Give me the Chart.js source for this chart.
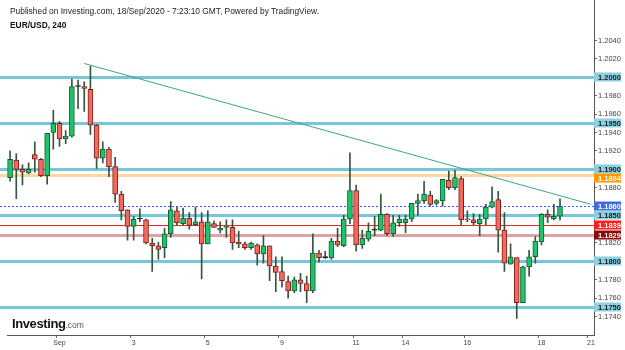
<!DOCTYPE html>
<html>
<head>
<meta charset="utf-8">
<script src="https://cdn.jsdelivr.net/npm/chart.js@4.4.0/dist/chart.umd.min.js"></script>
<style>
  html, body { margin: 0; padding: 0; background: #fff; }
  #wrap { position: relative; width: 625px; height: 350px; }
  #hdr { position: absolute; left: 10px; top: 4px; font-family: "Liberation Sans", Arial, sans-serif; font-size: 8.4px; color: #222; line-height: 14px; }
  #hdr b { color: #111; }
  #logo { position: absolute; left: 12px; top: 314px; font-family: "Liberation Sans", Arial, sans-serif; color: #111; }
  #logo b { font-size: 13px; letter-spacing: -0.4px; }
  #logo span { font-size: 8.5px; color: #555; }
</style>
</head>
<body>
<div id="wrap">
  <canvas id="myChart" width="625" height="350"></canvas>
  <div id="hdr">Published on Investing.com, 18/Sep/2020 - 7:23:10 GMT, Powered by TradingView.<br><b>EUR/USD, 240</b></div>
  <div id="logo"><b>Investing</b><span>.com</span></div>
</div>
<script>
const opens  = [1.1891,1.1910,1.1900,1.1896,1.1916,1.1911,1.1893,1.1940,1.1950,1.1933,
                1.1936,1.1990,1.1990,1.1987,1.1948,1.1912,1.1922,1.1903,1.1873,1.1856,
                1.1838,1.1846,1.1845,1.1820,1.1817,1.1815,1.1830,1.1855,1.1841,1.1847,
                1.1840,1.1843,1.1819,1.1841,1.1834,1.1837,1.1837,1.1821,1.1819,1.1815,
                1.1818,1.1808,1.1817,1.1795,1.1789,1.1778,1.1768,1.1780,1.1776,1.1768,
                1.1809,1.1804,1.1804,1.1822,1.1817,1.1846,1.1877,1.1818,1.1824,1.1834,
                1.1834,1.1851,1.1830,1.1842,1.1842,1.1846,1.1863,1.1866,1.1872,1.1863,
                1.1866,1.1888,1.1880,1.1890,1.1846,1.1845,1.1841,1.1846,1.1859,1.1867,
                1.1834,1.1797,1.1804,1.1755,1.1794,1.1805,1.1821,1.1851,1.1846,1.1849];
const highs  = [1.1920,1.1917,1.1905,1.1907,1.1930,1.1912,1.1939,1.1964,1.1952,1.1942,
                1.1998,1.1997,1.1995,1.2012,1.1949,1.1930,1.1924,1.1913,1.1876,1.1856,
                1.1849,1.1857,1.1846,1.1825,1.1821,1.1836,1.1865,1.1859,1.1858,1.1853,
                1.1859,1.1853,1.1855,1.1844,1.1843,1.1845,1.1845,1.1833,1.1821,1.1821,
                1.1819,1.1828,1.1817,1.1805,1.1805,1.1784,1.1783,1.1787,1.1784,1.1830,
                1.1812,1.1811,1.1825,1.1836,1.1850,1.1918,1.1883,1.1834,1.1842,1.1849,
                1.1873,1.1852,1.1850,1.1850,1.1850,1.1863,1.1873,1.1887,1.1876,1.1867,
                1.1889,1.1898,1.1899,1.1892,1.1855,1.1852,1.1851,1.1862,1.1881,1.1876,
                1.1853,1.1819,1.1804,1.1795,1.1812,1.1827,1.1852,1.1856,1.1862,1.1868];
const lows   = [1.1887,1.1868,1.1883,1.1895,1.1897,1.1892,1.1884,1.1922,1.1925,1.1928,
                1.1935,1.1966,1.1963,1.1938,1.1901,1.1907,1.1892,1.1864,1.1845,1.1823,
                1.1823,1.1843,1.1819,1.1789,1.1802,1.1804,1.1826,1.1839,1.1839,1.1835,
                1.1839,1.1781,1.1819,1.1837,1.1831,1.1826,1.1813,1.1815,1.1813,1.1813,
                1.1796,1.1798,1.1779,1.1767,1.1772,1.1760,1.1766,1.1767,1.1755,1.1766,
                1.1799,1.1803,1.1802,1.1816,1.1816,1.1841,1.1811,1.1814,1.1822,1.1828,
                1.1833,1.1828,1.1827,1.1838,1.1831,1.1843,1.1850,1.1863,1.1860,1.1861,
                1.1860,1.1878,1.1878,1.1840,1.1843,1.1840,1.1828,1.1840,1.1858,1.1810,
                1.1789,1.1797,1.1738,1.1755,1.1784,1.1798,1.1818,1.1842,1.1845,1.1845];
const closes = [1.1911,1.1900,1.1897,1.1900,1.1911,1.1893,1.1939,1.1950,1.1933,1.1936,
                1.1990,1.1990,1.1988,1.1948,1.1912,1.1922,1.1903,1.1873,1.1855,1.1838,
                1.1846,1.1846,1.1820,1.1817,1.1813,1.1830,1.1856,1.1842,1.1847,1.1839,
                1.1843,1.1819,1.1843,1.1837,1.1836,1.1838,1.1820,1.1819,1.1815,1.1820,
                1.1808,1.1817,1.1795,1.1788,1.1779,1.1768,1.1780,1.1776,1.1768,1.1809,
                1.1804,1.1804,1.1822,1.1818,1.1846,1.1877,1.1818,1.1825,1.1833,1.1834,
                1.1851,1.1830,1.1842,1.1846,1.1846,1.1863,1.1866,1.1873,1.1862,1.1866,
                1.1889,1.1880,1.1891,1.1845,1.1845,1.1842,1.1846,1.1859,1.1865,1.1834,
                1.1798,1.1805,1.1755,1.1794,1.1805,1.1822,1.1851,1.1848,1.1849,1.1860];

// x tick labels by bar slot (95 slots, last ones are empty future space)
const tickSlots = [8, 20, 32, 44, 56, 64, 74, 86, 94];
const tickNames = ["Sep", "3", "5", "9", "11", "14", "16", "18", "21"];

const supportLevels = [1.2000, 1.1950, 1.1900, 1.1850, 1.1800, 1.1750];
const orangeLevel = 1.1894;
const lastPrice = 1.1860;
const redLevel = 1.1839;
const darkRedLevel = 1.1829;

const trendX = [12, 94];
const trendY = [1.2015, 1.1862];

const yMin = 1.1720, yMax = 1.2078;

var labels = [];
var trend = [];
for (var i = 0; i < 95; i++) {
  var k = tickSlots.indexOf(i);
  labels.push(k >= 0 ? tickNames[k] : "");
  var t = trendX.indexOf(i);
  trend.push(t >= 0 ? trendY[t] : null);
}

var wicks = lows.map(function (l, i) { return [l, highs[i]]; });
var bodies = opens.map(function (o, i) { return [Math.min(o, closes[i]), Math.max(o, closes[i])]; });
var bodyFill = opens.map(function (o, i) {
  if (o === closes[i]) return "#222";
  return closes[i] > o ? "#1cc46a" : "#f5685a";
});
var bodyLine = opens.map(function (o, i) {
  if (o === closes[i]) return "#222";
  return closes[i] > o ? "#1d5a31" : "#7a1f1f";
});

function drawLevels(chart) {
  var ctx = chart.ctx, a = chart.chartArea, y = chart.scales.y;
  function hline(v, color, width, dash) {
    var py = Math.round(y.getPixelForValue(v)) + (width % 2 ? 0.5 : 0);
    ctx.save();
    ctx.strokeStyle = color;
    ctx.lineWidth = width;
    ctx.setLineDash(dash || []);
    ctx.beginPath();
    ctx.moveTo(a.left - 7, py);
    ctx.lineTo(a.right, py);
    ctx.stroke();
    ctx.restore();
  }
  supportLevels.forEach(function (v) { hline(v, "rgba(96,188,210,0.85)", 3); });
  hline(orangeLevel, "#ffd7a0", 3);
  hline(darkRedLevel, "#d9a4a4", 3);
  hline(redLevel, "#e02a2a", 1);
  hline(lastPrice, "#3a5cff", 1, [2, 2]);
}

function drawBadges(chart) {
  var ctx = chart.ctx, a = chart.chartArea, y = chart.scales.y;
  // axis line up to the very top like the original
  ctx.fillStyle = "#555";
  ctx.fillRect(a.right, 0, 1, a.top);

  var list = supportLevels.map(function (v) { return { v: v, bg: "#8dd0e0", fg: "#1a1a1a" }; });
  list.push({ v: orangeLevel, bg: "#ff9800", fg: "#fff" });
  list.push({ v: lastPrice, bg: "#4169e1", fg: "#fff" });
  list.push({ v: redLevel, bg: "#ff1f1f", fg: "#fff" });
  list.push({ v: darkRedLevel, bg: "#8b0a0a", fg: "#fff" });
  list.forEach(function (b) { b.py = Math.round(y.getPixelForValue(b.v)); });
  list.sort(function (p, q) { return p.py - q.py; });

  // push overlapping badges down a bit
  var h = 9, prevBottom = -100;
  list.forEach(function (b) {
    var top = b.py - 4.5;
    if (top < prevBottom) top = prevBottom;
    prevBottom = top + h;
    ctx.fillStyle = b.bg;
    ctx.fillRect(a.right, top, 27, h);
    ctx.fillStyle = b.fg;
    ctx.font = "bold 7.5px 'Liberation Sans', Arial, sans-serif";
    ctx.textAlign = "left";
    ctx.textBaseline = "middle";
    ctx.fillText(b.v.toFixed(4), a.right + 4, top + h / 2 + 0.5);
  });
}

new Chart("myChart", {
  type: "bar",
  data: {
    labels: labels,
    datasets: [{
      type: "line",
      data: trend,
      spanGaps: true,
      borderColor: "#3aa785",
      borderWidth: 1,
      pointRadius: 0,
      fill: false,
      order: 2
    }, {
      data: wicks,
      backgroundColor: "#34573c",
      barThickness: 1,
      grouped: false,
      order: 1
    }, {
      data: bodies,
      backgroundColor: bodyFill,
      borderColor: bodyLine,
      borderWidth: 1,
      borderSkipped: false,
      barThickness: 5,
      minBarLength: 1,
      grouped: false,
      order: 0
    }]
  },
  options: {
    responsive: false,
    animation: false,
    layout: { padding: { left: 7, top: 0, right: 0, bottom: 0 } },
    plugins: { legend: { display: false }, tooltip: { enabled: false } },
    scales: {
      x: {
        offset: true,
        grid: {
          drawOnChartArea: false,
          tickLength: 3,
          color: function (c) { return c.tick && c.tick.label ? "#666" : "rgba(0,0,0,0)"; }
        },
        border: { color: "#555" },
        ticks: {
          autoSkip: false, maxRotation: 0, padding: 1, color: "#444",
          font: { family: "'Liberation Sans', Arial, sans-serif", size: 7 }
        },
        afterFit: function (s) { s.height = 15; }
      },
      y: {
        position: "right",
        min: yMin,
        max: yMax,
        grid: { drawOnChartArea: false, tickLength: 3, color: "#666" },
        border: { color: "#555" },
        ticks: {
          stepSize: 0.002,
          maxTicksLimit: 100,
          padding: 1,
          color: "#444",
          font: { family: "'Liberation Sans', Arial, sans-serif", size: 7.5 },
          callback: function (v) {
            if (v < 1.1739 || v > 1.2041) return null;
            return v.toFixed(4);
          }
        },
        afterFit: function (s) { s.width = 31; }
      }
    }
  },
  plugins: [{
    id: "levels",
    beforeDatasetsDraw: drawLevels,
    afterDraw: drawBadges
  }]
});
</script>
</body>
</html>
